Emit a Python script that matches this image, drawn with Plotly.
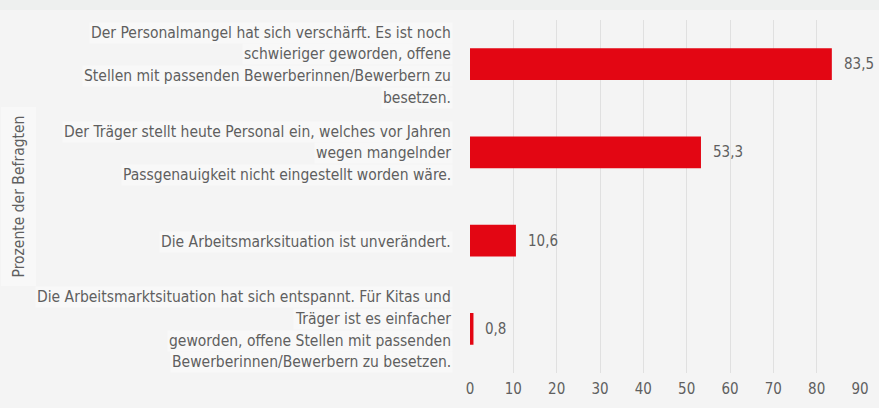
import plotly.graph_objects as go

categories = [
    "Der Personalmangel hat sich verschärft. Es ist noch<br>schwieriger geworden, offene<br>Stellen mit passenden Bewerberinnen/Bewerbern zu<br>besetzen.",
    "Der Träger stellt heute Personal ein, welches vor Jahren<br>wegen mangelnder<br>Passgenauigkeit nicht eingestellt worden wäre.",
    "Die Arbeitsmarksituation ist unverändert.",
    "Die Arbeitsmarktsituation hat sich entspannt. Für Kitas und<br>Träger ist es einfacher<br>geworden, offene Stellen mit passenden<br>Bewerberinnen/Bewerbern zu besetzen.",
]
values = [83.5, 53.3, 10.6, 0.8]
x_ticks = [0, 10, 20, 30, 40, 50, 60, 70, 80, 90]
axis_title = "Prozente der Befragten"

FONT = "Liberation Sans Narrow, DejaVu Sans Condensed, Roboto, sans-serif"
TXT = "#5f5f5f"
BG = "#f4f4f4"

fig = go.Figure(go.Bar(
    x=values,
    y=list(range(len(categories))),
    orientation="h",
    marker=dict(color="#e30613", line=dict(width=0)),
    width=0.36,
    hoverinfo="skip",
))

annotations = []
line_h = 21.7
for i, cat in enumerate(categories):
    lines = cat.split("<br>")
    n = len(lines)
    for j, ln in enumerate(lines):
        annotations.append(dict(
            xref="paper", yref="y", x=0, y=i, xanchor="right", yanchor="middle",
            xshift=-17, yshift=-((j - (n - 1) / 2) * line_h) - 1,
            text=ln, showarrow=False, align="right",
            font=dict(family=FONT, size=15.5, color=TXT),
            bgcolor="#f8f8f8", borderpad=1,
        ))

for i, v in enumerate(values):
    annotations.append(dict(
        xref="x", yref="y", x=v, y=i, xanchor="left", yanchor="middle",
        xshift=10, text=f"{v:.1f}".replace(".", ","), showarrow=False,
        font=dict(family=FONT, size=15, color=TXT),
    ))

annotations.append(dict(
    xref="paper", yref="paper", x=0, y=0.5, xanchor="center", yanchor="middle",
    xshift=-452, yshift=0, text=axis_title, textangle=-90, showarrow=False,
    font=dict(family=FONT, size=15.5, color=TXT), bgcolor="#f8f8f8", borderpad=8,
))

fig.update_layout(
    width=879, height=408,
    margin=dict(l=470, r=10, t=20, b=35),
    paper_bgcolor=BG, plot_bgcolor=BG,
    showlegend=False,
    annotations=annotations,
    shapes=[dict(type="rect", xref="paper", yref="paper", x0=-2, x1=2,
                 y0=1.0 + 10 / 353, y1=1.0 + 20 / 353,
                 fillcolor="#eef0ef", line=dict(width=0), layer="below")],
    xaxis=dict(range=[0, 90], tickvals=x_ticks, showgrid=True, gridcolor="#e0e0e0", gridwidth=1,
               zeroline=False, showline=False, ticks="", ticklen=0, ticklabelstandoff=5,
               tickfont=dict(family=FONT, size=15, color=TXT)),
    yaxis=dict(range=[3.5, -0.5], showticklabels=False, showgrid=False, zeroline=False,
               showline=False, ticks=""),
    bargap=0.64,
)

fig.write_html("out.html", config={"displayModeBar": False},
               post_script="document.body.style.margin='0';document.body.style.background='" + BG + "';")
